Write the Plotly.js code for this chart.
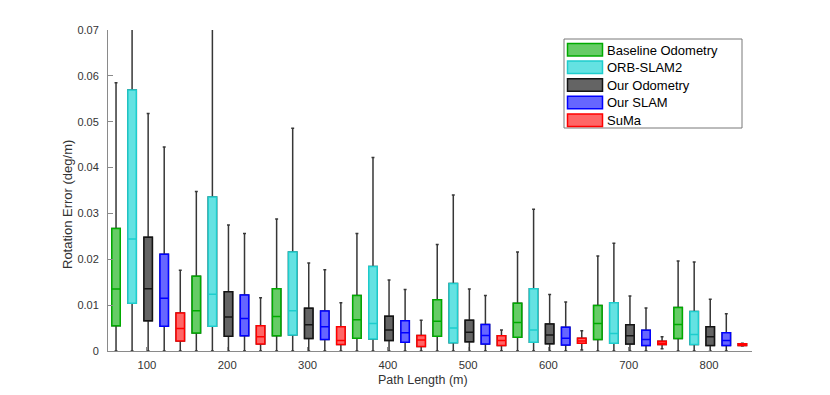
<!DOCTYPE html>
<html>
<head>
<meta charset="utf-8">
<script src="https://cdn.plot.ly/plotly-3.0.1.min.js"></script>
<style>html,body{margin:0;padding:0;background:#fff;}#chart{width:830px;height:395px;}</style>
</head>
<body>
<div id="chart"></div>
<script>
// ---- data ----
const pathLengths = [100, 200, 300, 400, 500, 600, 700, 800];
const seriesNames = ['Baseline Odometry', 'ORB-SLAM2', 'Our Odometry', 'Our SLAM', 'SuMa'];
const xTitle = 'Path Length (m)';
const yTitle = 'Rotation Error (deg/m)';

const baselineQ1  = [0.0055, 0.0039, 0.0033, 0.0028, 0.0032, 0.0030, 0.0025, 0.0027];
const baselineMed = [0.0135, 0.0088, 0.0075, 0.0068, 0.0065, 0.0062, 0.0060, 0.0058];
const baselineQ3  = [0.0267, 0.0163, 0.0136, 0.0121, 0.0112, 0.0104, 0.0099, 0.0095];
const baselineHi  = [0.0585, 0.0348, 0.0288, 0.0256, 0.0232, 0.0216, 0.0207, 0.0196];
const baselineLo  = [0, 0, 0, 0, 0, 0, 0, 0];

const orbQ1  = [0.0104, 0.0054, 0.0035, 0.0026, 0.0018, 0.0019, 0.0017, 0.0014];
const orbMed = [0.0244, 0.0124, 0.0088, 0.0060, 0.0050, 0.0046, 0.0038, 0.0036];
const orbQ3  = [0.0569, 0.0336, 0.0216, 0.0184, 0.0147, 0.0136, 0.0105, 0.0086];
const orbHi  = [0.0800, 0.0800, 0.0486, 0.0422, 0.0340, 0.0309, 0.0235, 0.0194];
const orbLo  = [0, 0, 0, 0, 0, 0, 0, 0];

const odomQ1  = [0.0066, 0.0032, 0.0027, 0.0023, 0.0020, 0.0016, 0.0015, 0.0012];
const odomMed = [0.0136, 0.0074, 0.0057, 0.0046, 0.0041, 0.0035, 0.0033, 0.0031];
const odomQ3  = [0.0248, 0.0129, 0.0093, 0.0076, 0.0067, 0.0059, 0.0057, 0.0053];
const odomHi  = [0.0518, 0.0275, 0.0192, 0.0155, 0.0135, 0.0123, 0.0120, 0.0113];
const odomLo  = [0, 0, 0, 0, 0, 0, 0, 0];

const slamQ1  = [0.0054, 0.0033, 0.0025, 0.0019, 0.0015, 0.0013, 0.0012, 0.0012];
const slamMed = [0.0115, 0.0071, 0.0053, 0.0040, 0.0034, 0.0028, 0.0025, 0.0023];
const slamQ3  = [0.0211, 0.0122, 0.0087, 0.0066, 0.0058, 0.0052, 0.0045, 0.0040];
const slamHi  = [0.0445, 0.0256, 0.0177, 0.0134, 0.0121, 0.0107, 0.0094, 0.0081];
const slamLo  = [0, 0, 0, 0, 0, 0, 0, 0];

const sumaQ1  = [0.0022, 0.0015, 0.0014, 0.0010, 0.0012, 0.0017, 0.0014, 0.0012];
const sumaMed = [0.0049, 0.0031, 0.0023, 0.0024, 0.0023, 0.0022, 0.0017, 0.0014];
const sumaQ3  = [0.0083, 0.0055, 0.0053, 0.0034, 0.0033, 0.0028, 0.0021, 0.0016];
const sumaHi  = [0.0176, 0.0116, 0.0105, 0.0067, 0.0046, 0.0044, 0.0031, 0.0017];
const sumaLo  = [0, 0, 0, 0, 0, 0.0002, 0.0005, 0.0011];

// ---- styles ----
const fillColors = ['rgb(102,204,102)', 'rgb(100,226,226)', 'rgb(100,100,100)', 'rgb(102,102,255)', 'rgb(255,102,102)'];
const lineColors = ['rgb(0,170,0)', 'rgb(30,205,205)', 'rgb(20,20,20)', 'rgb(0,0,255)', 'rgb(255,0,0)'];
const whiskerColor = 'rgb(55,55,55)';
const offsets = [-38.5, -18.5, 1.5, 21.5, 41.5];
const boxWidth = 10.5;
const fontFamily = 'Liberation Sans, Arial, sans-serif';

const stats = [
  [baselineQ1, baselineMed, baselineQ3, baselineLo, baselineHi],
  [orbQ1, orbMed, orbQ3, orbLo, orbHi],
  [odomQ1, odomMed, odomQ3, odomLo, odomHi],
  [slamQ1, slamMed, slamQ3, slamLo, slamHi],
  [sumaQ1, sumaMed, sumaQ3, sumaLo, sumaHi]
];

const traces = [];
stats.forEach((s, i) => {
  const xs = pathLengths.map(p => p + offsets[i]);
  // whiskers (dark)
  traces.push({
    type: 'box', x: xs, q1: s[0], median: s[1], q3: s[2], lowerfence: s[3], upperfence: s[4],
    width: boxWidth, whiskerwidth: 0.35, boxpoints: false,
    line: {color: whiskerColor, width: 1.5}, fillcolor: 'rgba(0,0,0,0)',
    showlegend: false, hoverinfo: 'skip'
  });
  // coloured boxes
  traces.push({
    type: 'box', x: xs, q1: s[0], median: s[1], q3: s[2], lowerfence: s[0], upperfence: s[2],
    width: boxWidth, whiskerwidth: 0, boxpoints: false,
    line: {color: lineColors[i], width: 1.5}, fillcolor: fillColors[i],
    name: seriesNames[i], showlegend: false, hoverinfo: 'skip'
  });
});

// ---- custom legend + axis titles (pixel geometry -> paper coords) ----
const plotL = 108, plotR = 752, plotT = 30, plotB = 351;
const px2x = p => (p - plotL) / (plotR - plotL);
const py2y = p => (plotB - p) / (plotB - plotT);
const shapes = [{
  type: 'rect', xref: 'paper', yref: 'paper',
  x0: px2x(564), x1: px2x(742), y0: py2y(39), y1: py2y(128),
  line: {color: 'rgb(120,120,120)', width: 1}, fillcolor: 'white', layer: 'above'
}];
const annotations = [];
seriesNames.forEach((n, i) => {
  const top = 43.5 + i * 17.6;
  shapes.push({
    type: 'rect', xref: 'paper', yref: 'paper',
    x0: px2x(567.5), x1: px2x(602.5), y0: py2y(top), y1: py2y(top + 12.5),
    line: {color: lineColors[i], width: 1.5}, fillcolor: fillColors[i], layer: 'above'
  });
  annotations.push({
    xref: 'paper', yref: 'paper', x: px2x(604.5), y: py2y(top + 6.5),
    xanchor: 'left', yanchor: 'middle', showarrow: false, text: n,
    font: {family: fontFamily, size: 13, color: '#000'}
  });
});
annotations.push({
  xref: 'paper', yref: 'paper', x: px2x(423), y: py2y(380),
  xanchor: 'center', yanchor: 'middle', showarrow: false, text: xTitle,
  font: {family: fontFamily, size: 12.5, color: '#333'}
});
annotations.push({
  xref: 'paper', yref: 'paper', x: px2x(68), y: py2y(205),
  xanchor: 'center', yanchor: 'middle', showarrow: false, text: yTitle, textangle: -90,
  font: {family: fontFamily, size: 13, color: '#333'}
});

const axisFont = {family: fontFamily, size: 11.3, color: '#333'};
const layout = {
  width: 830, height: 395,
  margin: {l: plotL, r: 830 - plotR, t: plotT, b: 395 - plotB, pad: 0},
  paper_bgcolor: '#fff', plot_bgcolor: '#fff',
  boxmode: 'overlay',
  showlegend: false,
  font: axisFont,
  xaxis: {
    range: [51.5, 853.5], tickvals: pathLengths, ticktext: pathLengths.map(String),
    showgrid: false, zeroline: false, showline: true, linecolor: '#8a8a8a', linewidth: 1,
    ticks: 'inside', ticklen: 4, tickcolor: '#8a8a8a', ticklabelstandoff: 3,
    tickfont: axisFont
  },
  yaxis: {
    range: [0, 0.07], dtick: 0.01, tick0: 0,
    showgrid: false, zeroline: false, showline: true, linecolor: '#8a8a8a', linewidth: 1,
    ticks: 'inside', ticklen: 5, tickcolor: '#8a8a8a', ticklabelstandoff: 6,
    tickfont: {family: fontFamily, size: 11, color: '#333'}
  },
  shapes: shapes,
  annotations: annotations
};

Plotly.newPlot('chart', traces, layout, {displayModeBar: false, staticPlot: true});
</script>
</body>
</html>
